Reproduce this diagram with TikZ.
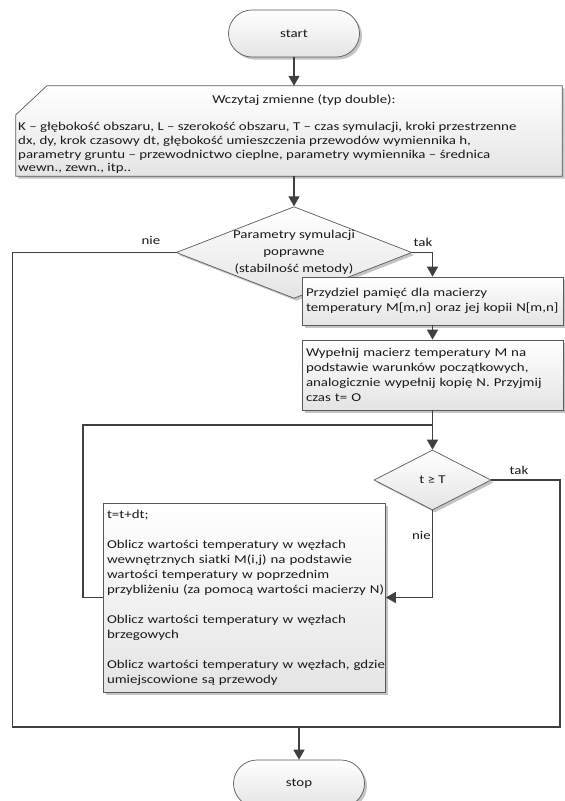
\documentclass[tikz,border=0pt]{standalone}
\usepackage{fontspec}
\setmainfont{Carlito}[FakeStretch=1.24]
\usetikzlibrary{arrows.meta,shapes.geometric,shadows,calc}
\definecolor{linec}{HTML}{404040}
\definecolor{edgec}{HTML}{5A5A5A}
\definecolor{fillb}{HTML}{E4E4E4}
\definecolor{shadowc}{HTML}{C4C4C4}
\definecolor{textc}{HTML}{1A1A1A}
\newcommand{\lnbox}[1]{\mbox{#1}}
\tikzset{
  shp/.style={draw=edgec, line width=0.7pt, top color=white, bottom color=fillb,
    drop shadow={shadow xshift=2.5pt, shadow yshift=-2.5pt, fill=shadowc, opacity=1}},
  txt/.style={font=\fontsize{12}{15}\selectfont, text=textc, inner sep=0pt},
  term/.style={shp, txt, rectangle, rounded corners=23.5pt, minimum width=131pt, minimum height=47pt},
  dec/.style={shp, txt, diamond, align=center},
  proc/.style={shp, txt, rectangle, align=left, inner xsep=4pt, inner ysep=0pt},
  lbl/.style={txt},
  conn/.style={draw=linec, line width=1.6pt},
  arr/.style={conn, -{Triangle[length=10pt,width=11pt]}},
}
\begin{document}
\begin{tikzpicture}[x=1pt,y=-1pt]
\clip (0,0) rectangle (565,801);
\fill[white] (0,0) rectangle (565,801);

% start
\node[term] (start) at (294,33.5) {start};

% input (manual input shape)
\node[minimum width=546pt, minimum height=90pt, inner sep=0pt] (inp) at (289,131) {};
\path[shp] ($(inp.north west)+(0,29)$) -- ($(inp.north west)+(31,0)$) -- (inp.north east)
  -- (inp.south east) -- (inp.south west) -- cycle;
\node[txt] (inptitle) at (304,100) {Wczytaj zmienne (typ double):};
\node[txt, font=\fontsize{12}{13.7}\selectfont, align=left, anchor=west] (inpbody) at (18,148)
  {K – głębokość obszaru, L – szerokość obszaru, T – czas symulacji, kroki przestrzenne\\
   dx, dy, krok czasowy dt, głębokość umieszczenia przewodów wymiennika h,\\
   parametry gruntu – przewodnictwo cieplne, parametry wymiennika – średnica\\
   wewn., zewn., itp..};

% decision 1
\node[dec, aspect=2.57, minimum width=234pt, minimum height=91pt, font=\fontsize{12}{17}\selectfont] (d1) at (294,252.5)
  {Parametry symulacji\\poprawne\\(stabilność metody)};

% process boxes
\node[proc, text width=253pt, minimum height=48pt] (box1) at (432.5,301)
  {\lnbox{Przydziel pamięć dla macierzy}\\\lnbox{temperatury M[m,n] oraz jej kopii N[m,n]}};
\node[proc, text width=253pt, minimum height=70pt] (box2) at (432.5,375)
  {\lnbox{Wypełnij macierz temperatury M na}\\\lnbox{podstawie warunków początkowych,}\\
   \lnbox{analogicznie wypełnij kopię N. Przyjmij}\\\lnbox{czas t= O}};

% decision 2
\node[dec, aspect=1.95, minimum width=117pt, minimum height=60pt] (d2) at (432.5,480) {t ≥ T};

% box 3
\node[proc, text width=274.5pt, minimum height=189pt] (box3) at (244.25,597.5)
  {\lnbox{t=t+dt;}\\[15pt]
   \lnbox{Oblicz wartości temperatury w węzłach}\\
   \lnbox{wewnętrznych siatki M(i,j) na podstawie}\\
   \lnbox{wartości temperatury w poprzednim}\\
   \lnbox{przybliżeniu (za pomocą wartości macierzy N)}\\[15pt]
   \lnbox{Oblicz wartości temperatury w węzłach}\\
   \lnbox{brzegowych}\\[15pt]
   \lnbox{Oblicz wartości temperatury w węzłach, gdzie}\\
   \lnbox{umiejscowione są przewody}};

% stop
\node[term] (stop) at (299,783.5) {stop};

% helper coordinates
\coordinate (lj) at (432.5,425);
\coordinate (lp) at (83,425);
\coordinate (bl) at (12.5,727);
\coordinate (br) at (560,727);
\coordinate (join) at (299,727);

% connectors
\draw[arr] (start.south) -- (start.south |- inp.north);
\draw[arr] (d1.north |- inp.south) -- (d1.north);
\draw[arr] (d1.east) -| (box1.north);
\draw[arr] (box1.south) -- (box2.north);
\draw[conn] (box2.south) -- (lj);
\draw[arr] (lj) -- (d2.north);
\draw[conn] (box3.west) -| (lp) -- (lj);
\draw[arr] (d2.south) |- (box3.east);
\draw[conn] (d1.west) -| (bl) -- (join);
\draw[conn] (d2.east) -| (br) -- (join);
\draw[arr] (join) -- (stop.north);

% labels
\node[lbl] (nie1) at (151,240) {nie};
\node[lbl] (tak1) at (423,242) {tak};
\node[lbl] (tak2) at (519,470) {tak};
\node[lbl] (nie2) at (421.5,535) {nie};
\end{tikzpicture}
\end{document}
